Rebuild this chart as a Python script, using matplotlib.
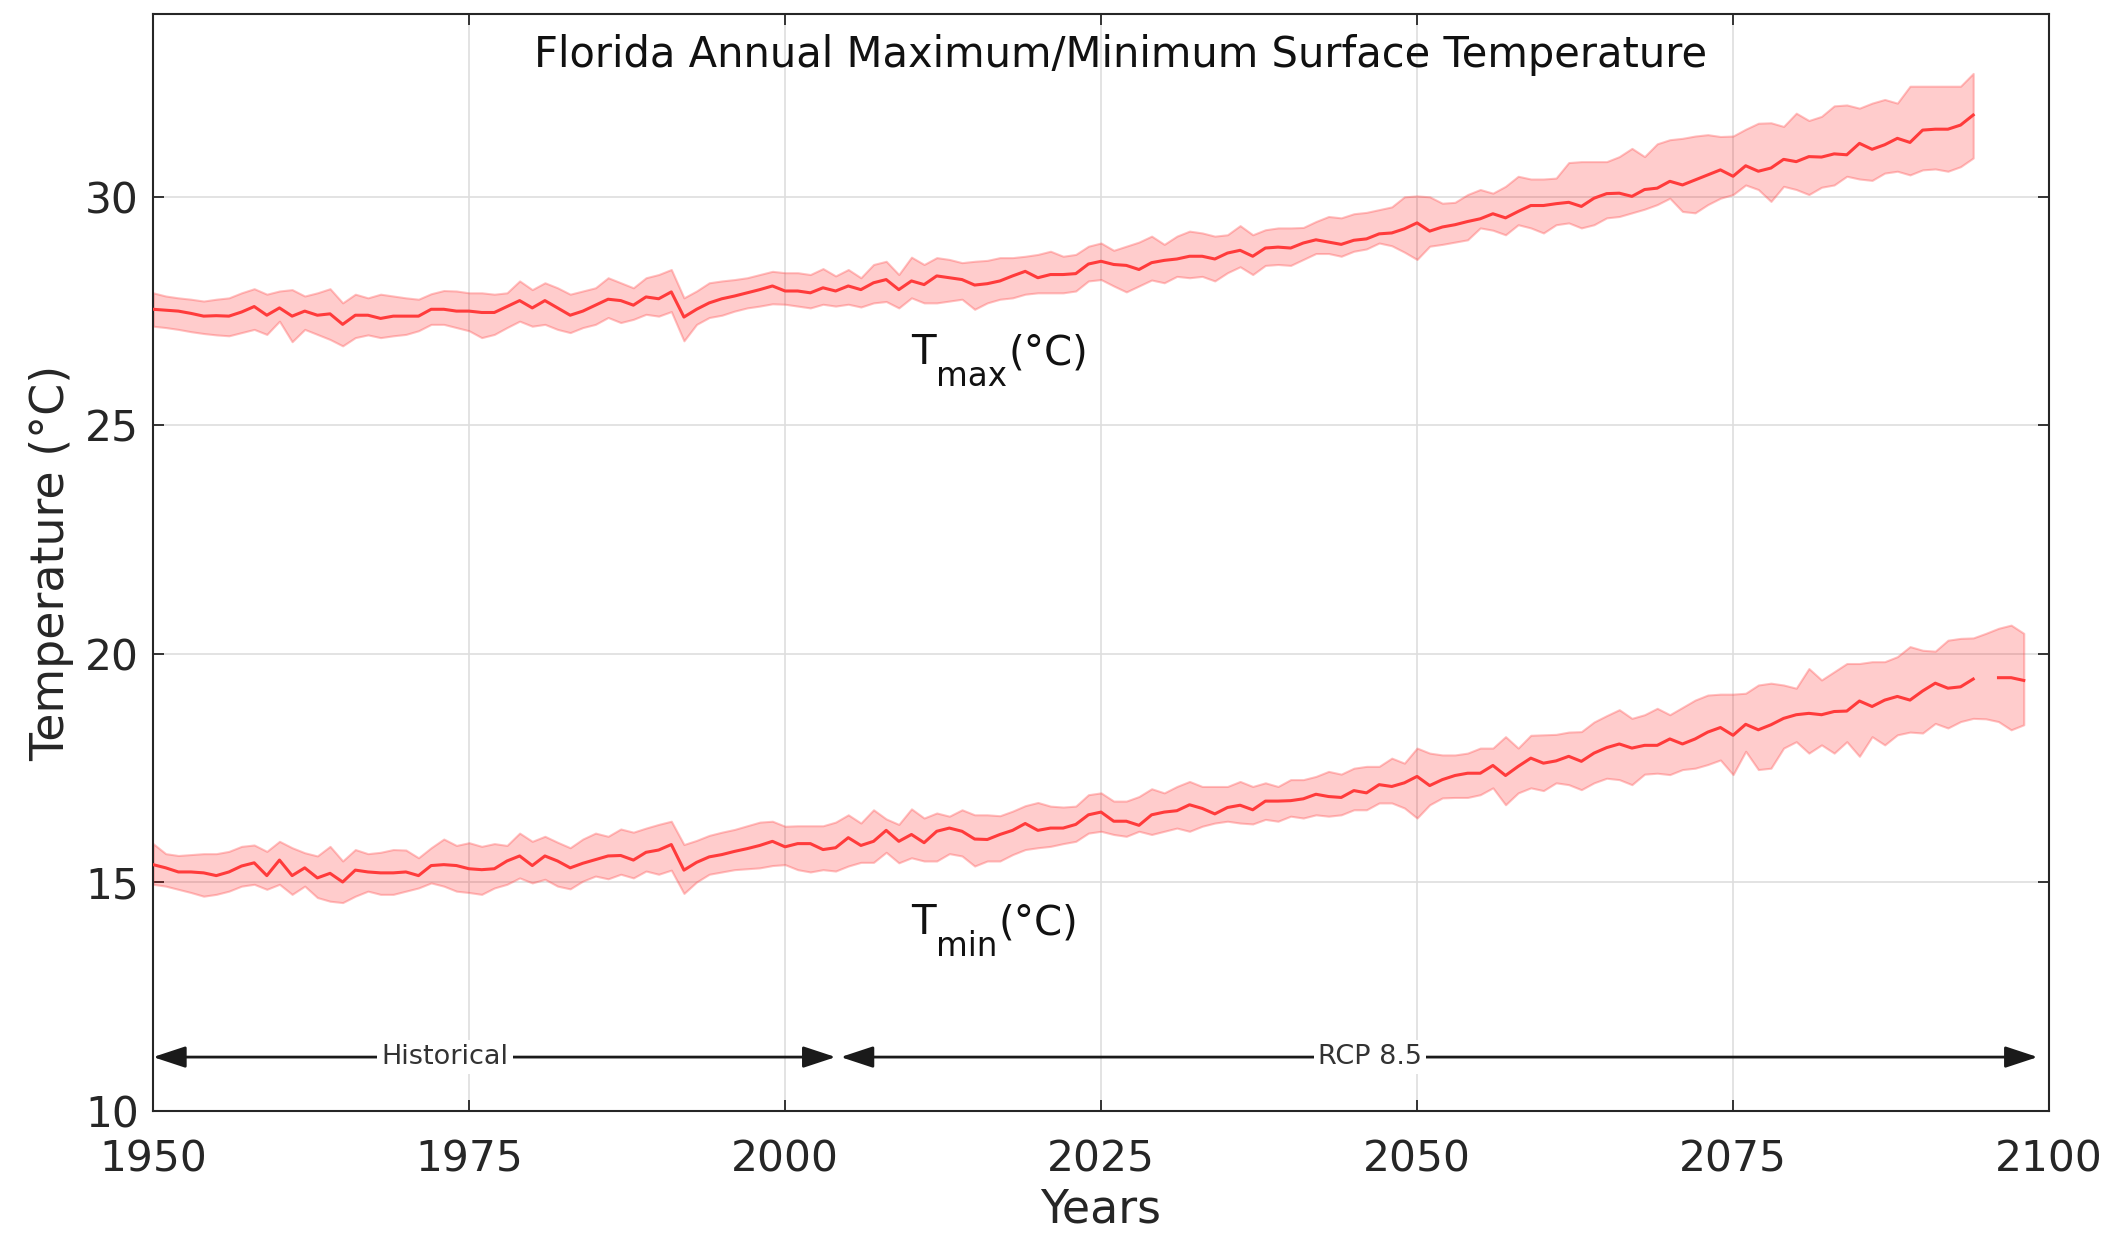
import matplotlib
matplotlib.use("Agg")
import matplotlib.pyplot as plt
import numpy as np

# ---- data ----
years_max = np.arange(1950, 2095)
years_min = np.arange(1950, 2099)

tmax_mean = [
    27.54, 27.52, 27.50, 27.45, 27.39, 27.40, 27.39, 27.48, 27.60, 27.41,
    27.57, 27.39, 27.50, 27.41, 27.44, 27.21, 27.41, 27.41, 27.34, 27.39,
    27.39, 27.39, 27.54, 27.54, 27.50, 27.50, 27.47, 27.47, 27.60, 27.73,
    27.57, 27.73, 27.57, 27.41, 27.50, 27.63, 27.76, 27.73, 27.63, 27.81,
    27.77, 27.92, 27.37, 27.54, 27.68, 27.77, 27.83, 27.90, 27.97, 28.05,
    27.94, 27.94, 27.90, 28.01, 27.94, 28.05, 27.97, 28.12, 28.19, 27.97,
    28.16, 28.08, 28.27, 28.23, 28.19, 28.07, 28.10, 28.16, 28.27, 28.37,
    28.23, 28.30, 28.30, 28.32, 28.53,
    28.59, 28.52, 28.50, 28.41, 28.56, 28.61, 28.64, 28.70, 28.70, 28.64,
    28.77, 28.83, 28.70, 28.88, 28.90, 28.88, 28.99, 29.06, 29.01, 28.96,
    29.05, 29.08, 29.19, 29.21, 29.30, 29.43, 29.25, 29.34, 29.39, 29.46,
    29.52, 29.63, 29.54, 29.68, 29.81, 29.81, 29.85, 29.88, 29.79, 29.97,
    30.07, 30.08, 30.01, 30.16, 30.19, 30.34, 30.26, 30.37, 30.48, 30.59,
    30.45, 30.68, 30.56, 30.63, 30.82, 30.77, 30.88, 30.87, 30.94, 30.92,
    31.17, 31.04, 31.14, 31.28, 31.19, 31.46, 31.48, 31.48, 31.57, 31.79,
]
tmax_upper = [
    27.90, 27.83, 27.79, 27.76, 27.72, 27.76, 27.79, 27.90, 27.99, 27.87,
    27.94, 27.97, 27.83, 27.90, 27.99, 27.68, 27.87, 27.79, 27.87, 27.83,
    27.79, 27.76, 27.88, 27.95, 27.94, 27.90, 27.90, 27.87, 27.90, 28.16,
    27.97, 28.12, 28.01, 27.87, 27.94, 28.01, 28.23, 28.12, 28.01, 28.23,
    28.30, 28.41, 27.79, 27.94, 28.12, 28.16, 28.19, 28.23, 28.30, 28.37,
    28.34, 28.34, 28.30, 28.43, 28.27, 28.41, 28.23, 28.52, 28.59, 28.30,
    28.68, 28.52, 28.67, 28.63, 28.56, 28.59, 28.61, 28.67, 28.67, 28.70,
    28.74, 28.81, 28.70, 28.74, 28.92,
    28.99, 28.83, 28.92, 29.01, 29.14, 28.96, 29.14, 29.25, 29.21, 29.14,
    29.17, 29.37, 29.17, 29.28, 29.32, 29.32, 29.33, 29.46, 29.57, 29.54,
    29.63, 29.66, 29.72, 29.78, 30.00, 30.02, 30.00, 29.86, 29.88, 30.05,
    30.16, 30.08, 30.23, 30.45, 30.39, 30.39, 30.41, 30.75, 30.77, 30.77,
    30.77, 30.88, 31.06, 30.88, 31.16, 31.25, 31.28, 31.33, 31.36, 31.32,
    31.33, 31.48, 31.61, 31.62, 31.54, 31.83, 31.67, 31.76, 31.99, 32.01,
    31.94, 32.05, 32.13, 32.05, 32.42, 32.42, 32.42, 32.42, 32.42, 32.70,
]
tmax_lower = [
    27.17, 27.14, 27.10, 27.05, 27.01, 26.98, 26.96, 27.03, 27.10, 26.99,
    27.28, 26.83, 27.10, 26.99, 26.88, 26.74, 26.92, 26.98, 26.92, 26.96,
    26.99, 27.07, 27.21, 27.21, 27.14, 27.07, 26.92, 26.99, 27.14, 27.28,
    27.17, 27.21, 27.10, 27.03, 27.14, 27.21, 27.36, 27.25, 27.32, 27.43,
    27.39, 27.49, 26.85, 27.21, 27.36, 27.41, 27.50, 27.57, 27.61, 27.66,
    27.65, 27.61, 27.57, 27.65, 27.61, 27.65, 27.59, 27.68, 27.71, 27.57,
    27.79, 27.68, 27.68, 27.72, 27.76, 27.54, 27.68, 27.76, 27.79, 27.87,
    27.90, 27.90, 27.90, 27.94, 28.16,
    28.19, 28.05, 27.92, 28.05, 28.18, 28.12, 28.26, 28.23, 28.26, 28.16,
    28.34, 28.47, 28.30, 28.50, 28.52, 28.50, 28.63, 28.76, 28.76, 28.70,
    28.81, 28.86, 28.99, 28.93, 28.79, 28.63, 28.92, 28.96, 29.01, 29.06,
    29.32, 29.27, 29.17, 29.39, 29.32, 29.21, 29.39, 29.43, 29.32, 29.39,
    29.54, 29.57, 29.65, 29.73, 29.83, 29.97, 29.68, 29.65, 29.83, 29.97,
    30.05, 30.26, 30.16, 29.90, 30.23, 30.16, 30.05, 30.21, 30.26, 30.45,
    30.39, 30.36, 30.52, 30.56, 30.48, 30.59, 30.61, 30.56, 30.66, 30.85,
]

tmin_mean = [
    15.39, 15.32, 15.23, 15.23, 15.21, 15.15, 15.23, 15.36, 15.43, 15.15,
    15.49, 15.15, 15.32, 15.10, 15.20, 15.01, 15.27, 15.23, 15.21, 15.21,
    15.23, 15.15, 15.37, 15.39, 15.37, 15.30, 15.28, 15.30, 15.47, 15.58,
    15.37, 15.58, 15.47, 15.32, 15.42, 15.50, 15.58, 15.59, 15.49, 15.66,
    15.71, 15.83, 15.27, 15.44, 15.56, 15.61, 15.68, 15.74, 15.81, 15.90,
    15.78, 15.85, 15.85, 15.72, 15.76, 15.98, 15.81, 15.90, 16.14, 15.90,
    16.05, 15.87, 16.12, 16.19, 16.12, 15.95, 15.94, 16.05, 16.14, 16.29,
    16.14, 16.19, 16.19, 16.27, 16.48,
    16.54, 16.34, 16.34, 16.25, 16.48, 16.54, 16.57, 16.70, 16.62, 16.50,
    16.64, 16.69, 16.59, 16.78, 16.78, 16.79, 16.83, 16.93, 16.88, 16.86,
    17.01, 16.96, 17.14, 17.10, 17.18, 17.32, 17.12, 17.25, 17.34, 17.39,
    17.39, 17.56, 17.34, 17.54, 17.72, 17.61, 17.66, 17.76, 17.65, 17.83,
    17.95, 18.03, 17.94, 18.00, 18.00, 18.14, 18.03, 18.14, 18.29, 18.39,
    18.22, 18.46, 18.34, 18.45, 18.59, 18.67, 18.70, 18.67, 18.74, 18.75,
    18.97, 18.85, 18.99, 19.07, 18.99, 19.19, 19.36, 19.25, 19.28, 19.45,
    np.nan, 19.48, 19.48, 19.42,
]
tmin_upper = [
    15.85, 15.63, 15.59, 15.61, 15.63, 15.63, 15.68, 15.79, 15.82, 15.68,
    15.90, 15.76, 15.65, 15.58, 15.79, 15.47, 15.72, 15.63, 15.66, 15.72,
    15.71, 15.54, 15.76, 15.95, 15.81, 15.87, 15.79, 15.85, 15.81, 16.08,
    15.90, 16.01, 15.88, 15.76, 15.95, 16.08, 16.01, 16.17, 16.10, 16.19,
    16.27, 16.34, 15.83, 15.92, 16.03, 16.10, 16.16, 16.24, 16.32, 16.34,
    16.23, 16.24, 16.24, 16.24, 16.32, 16.48, 16.30, 16.59, 16.39, 16.27,
    16.61, 16.41, 16.52, 16.45, 16.59, 16.48, 16.48, 16.46, 16.56, 16.68,
    16.75, 16.67, 16.65, 16.67, 16.92,
    16.96, 16.78, 16.78, 16.88, 17.05, 16.96, 17.10, 17.21, 17.10, 17.10,
    17.10, 17.21, 17.10, 17.18, 17.10, 17.25, 17.25, 17.32, 17.43, 17.37,
    17.50, 17.54, 17.54, 17.72, 17.61, 17.94, 17.83, 17.79, 17.79, 17.83,
    17.94, 17.94, 18.19, 17.94, 18.22, 18.23, 18.24, 18.29, 18.30, 18.51,
    18.65, 18.78, 18.59, 18.67, 18.81, 18.67, 18.83, 18.99, 19.10, 19.12,
    19.12, 19.14, 19.32, 19.36, 19.32, 19.25, 19.68, 19.43, 19.61, 19.79,
    19.79, 19.83, 19.83, 19.94, 20.16, 20.08, 20.06, 20.30, 20.34, 20.35,
    20.45, 20.56, 20.63, 20.45,
]
tmin_lower = [
    14.96, 14.92, 14.85, 14.78, 14.70, 14.74, 14.81, 14.92, 14.96, 14.85,
    14.96, 14.74, 14.92, 14.67, 14.59, 14.56, 14.70, 14.81, 14.74, 14.74,
    14.81, 14.88, 14.99, 14.92, 14.81, 14.78, 14.74, 14.88, 14.96, 15.10,
    14.99, 15.07, 14.92, 14.86, 15.03, 15.14, 15.08, 15.18, 15.10, 15.25,
    15.18, 15.27, 14.76, 15.01, 15.18, 15.23, 15.28, 15.30, 15.32, 15.37,
    15.39, 15.28, 15.23, 15.28, 15.25, 15.36, 15.44, 15.44, 15.66, 15.43,
    15.54, 15.47, 15.47, 15.63, 15.58, 15.36, 15.47, 15.47, 15.61, 15.72,
    15.76, 15.79, 15.85, 15.90, 16.08,
    16.12, 16.05, 16.01, 16.12, 16.05, 16.12, 16.19, 16.12, 16.23, 16.30,
    16.34, 16.30, 16.28, 16.38, 16.34, 16.45, 16.41, 16.48, 16.45, 16.48,
    16.59, 16.59, 16.74, 16.74, 16.63, 16.41, 16.70, 16.85, 16.86, 16.86,
    16.92, 17.07, 16.70, 16.96, 17.07, 17.01, 17.18, 17.14, 17.03, 17.18,
    17.28, 17.25, 17.14, 17.37, 17.39, 17.36, 17.47, 17.50, 17.58, 17.68,
    17.36, 17.87, 17.47, 17.50, 17.94, 18.08, 17.83, 18.01, 17.83, 18.08,
    17.76, 18.19, 18.01, 18.23, 18.29, 18.27, 18.48, 18.38, 18.52, 18.59,
    18.58, 18.52, 18.34, 18.45,
]

# periods drawn as arrows under the curves
periods = ["Historical", "RCP 8.5"]
period_start = [1950, 2004.4]
period_end = [2004.0, 2099.1]
period_label_x = [1973.1, 2046.3]

xticks = [1950, 1975, 2000, 2025, 2050, 2075, 2100]
yticks = [10, 15, 20, 25, 30]

INK = "#262626"


def draw_band(ax, years, mean, lower, upper):
    ax.fill_between(years, lower, upper, facecolor=(1, 0, 0, 0.2),
                    edgecolor=(1, 0.3, 0.3, 0.35), linewidth=1.5, zorder=2)
    ax.plot(years, mean, color="#ff3b3b", linewidth=2.2, zorder=3)


def sub_label(ax, x, y, base, sub, tail, size=29, subsize=23.5, drop=16):
    """T_sub(°C) built from three texts so the subscript sits low like MATLAB."""
    fig = ax.figure
    r = fig.canvas.get_renderer()
    t1 = ax.text(x, y, base, fontsize=size, ha="left", va="baseline", color="#111111")
    w1 = t1.get_window_extent(r).width * 72 / fig.dpi
    t2 = ax.annotate(sub, (x, y), xytext=(w1, -drop), textcoords="offset points",
                     fontsize=subsize, ha="left", va="baseline", color="#111111")
    w2 = t2.get_window_extent(r).width * 72 / fig.dpi
    ax.annotate(tail, (x, y), xytext=(w1 + w2 + 1, 0), textcoords="offset points",
                fontsize=size, ha="left", va="baseline", color="#111111")


if __name__ == "__main__":
    plt.rcParams["font.family"] = ["DejaVu Sans"]

    fig = plt.figure(figsize=(21.26, 12.39), dpi=100)
    ax = fig.add_axes([0.072, 0.1033, 0.8918, 0.8854])

    draw_band(ax, years_max, tmax_mean, tmax_lower, tmax_upper)
    draw_band(ax, years_min, tmin_mean, tmin_lower, tmin_upper)

    ax.set_xlim(1950, 2100)
    ax.set_ylim(10, 34)
    ax.set_xticks(xticks)
    ax.set_yticks(yticks)
    ax.grid(True, color="#dedede", linewidth=1.2)
    ax.set_axisbelow(True)

    ax.tick_params(direction="in", length=8, width=1.3, top=True, right=True,
                   labelsize=30.5, colors=INK)
    ax.tick_params(axis="x", pad=20)
    ax.tick_params(axis="y", pad=10)
    for sp in ax.spines.values():
        sp.set_color(INK)
        sp.set_linewidth(1.5)

    ax.set_xlabel("Years", fontsize=33, color=INK, labelpad=5)
    ax.set_ylabel("Temperature (°C)", fontsize=33, color=INK, labelpad=8)

    ax.text(0.5105, 0.963, "Florida Annual Maximum/Minimum Surface Temperature",
            transform=ax.transAxes, ha="center", va="center", fontsize=30,
            color="#111111")

    sub_label(ax, 2010.0, 26.34, "T", "max", "(°C)")
    sub_label(ax, 2010.0, 13.87, "T", "min", "(°C)")

    arrow_y = 11.18
    for name, x0, x1, xl in zip(periods, period_start, period_end, period_label_x):
        ax.annotate("", xy=(x1, arrow_y), xytext=(x0, arrow_y),
                    arrowprops=dict(arrowstyle="<|-|>,head_length=1.0,head_width=0.33",
                                    mutation_scale=20, lw=2, color="#1a1a1a",
                                    shrinkA=0, shrinkB=0), zorder=4)
        ax.text(xl, arrow_y, name, fontsize=19.5, ha="center", va="center",
                color="#333333", zorder=5,
                bbox=dict(boxstyle="square,pad=0.15", fc="white", ec="none"))

    fig.savefig("out.png", dpi=100)
